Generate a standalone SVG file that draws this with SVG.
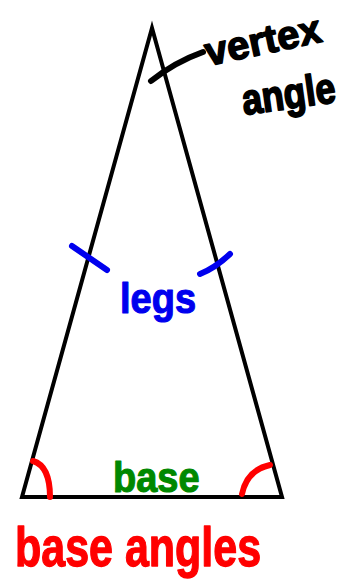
<svg xmlns="http://www.w3.org/2000/svg" width="350" height="588" viewBox="0 0 350 588">
<style>
.t{font-family:"Liberation Sans","DejaVu Sans",sans-serif;font-weight:bold;stroke-linejoin:round}
.pen{fill:none;stroke-linecap:round;stroke-linejoin:round}
</style>
<rect width="350" height="588" fill="#fff"/>
<g id="triangle">
<polygon points="152,28 22,497 282,497" fill="none" stroke="#000" stroke-width="4" stroke-linejoin="miter"/>
</g>
<g id="connectors">
<path class="pen" d="M151,81 Q175,62 203,52" stroke="#000" stroke-width="6"/>
<path class="pen" d="M72,246 L107,270" stroke="#0000ee" stroke-width="6"/>
<path class="pen" d="M200,274 Q215,268 230,254" stroke="#0000ee" stroke-width="6"/>
<path class="pen" d="M33,461 Q50,466 50,497" stroke="#ff0000" stroke-width="6"/>
<path class="pen" d="M242,494 Q247,470 270,465" stroke="#ff0000" stroke-width="6"/>
</g>
<g id="vertex-angle-label">
<text class="t" font-size="40" transform="translate(208 66) rotate(-12)" fill="#000" stroke="#000" stroke-width="1.5">vertex</text>
<text class="t" font-size="36" transform="translate(244 115) rotate(-8) scale(1 1.2)" fill="#000" stroke="#000" stroke-width="1.5">angle</text>
</g>
<g id="legs-label">
<text class="t" font-size="38" transform="translate(120 313) scale(1 1.1)" fill="#0000ee" stroke="#0000ee" stroke-width="1">legs</text>
</g>
<g id="base-label">
<text class="t" font-size="38" transform="translate(113 492) scale(1 1.1)" fill="#008800" stroke="#008800" stroke-width="1">base</text>
</g>
<g id="base-angles-label">
<text class="t" font-size="43" transform="translate(15 566) scale(1 1.3)" fill="#ff0000" stroke="#ff0000" stroke-width="1">base angles</text>
</g>
</svg>
